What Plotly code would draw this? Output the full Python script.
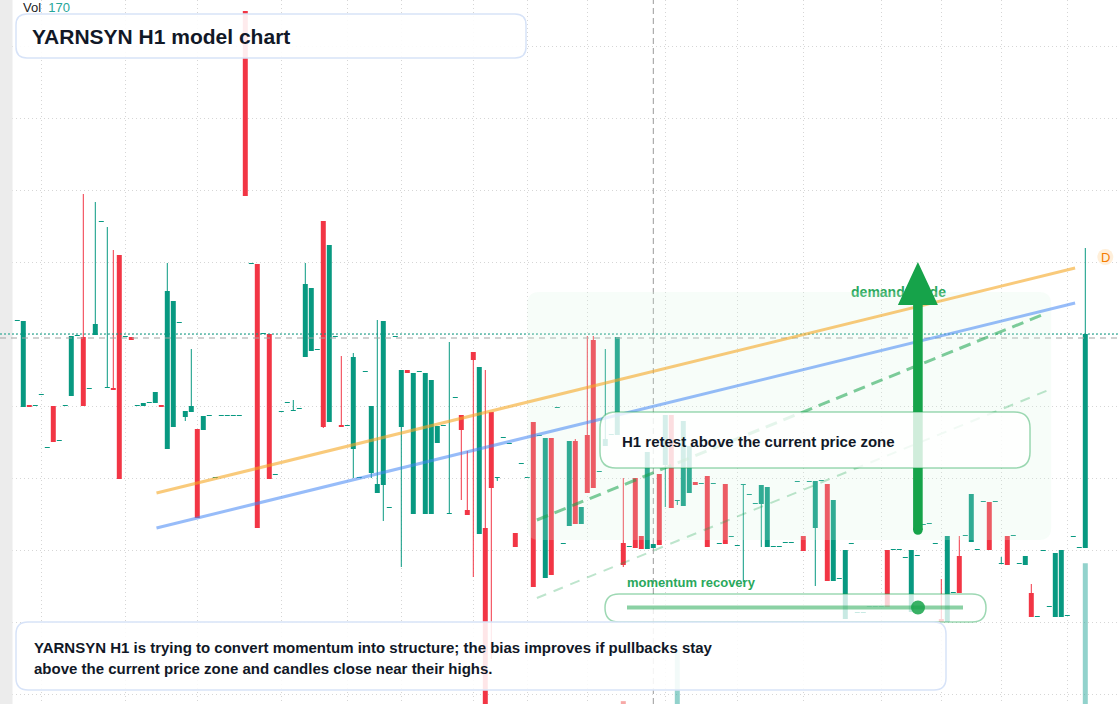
import plotly.graph_objects as go

W, H = 1120, 704

# hourly bars, oldest first
open_ = [
    24.25, 19.95, 20.05, 20.0, 20.55, 17.9, 20.0, 18.25, 20.0, 20.5,
    23.5, 23.45, 20.85, 23.55, 29.2, 20.9, 20.9, 27.55, 23.45, 23.45,
    20.0, 20.0, 20.15, 20.15, 20.05, 17.85, 18.95, 24.15, 19.45, 19.7,
    18.85, 18.8, 19.5, 16.4, 19.5, 19.5, 19.5, 19.5, 39.75, 27.1,
    27.1, 23.6, 23.6, 16.55, 19.7, 20.15, 19.75, 19.85, 22.45, 22.75,
    22.8, 29.25, 19.2, 23.45, 19.05, 19.0, 17.85, 16.4, 21.7, 16.65,
    15.65, 16.05, 14.9, 23.45, 18.95, 21.8, 14.6, 21.7, 14.6, 14.6,
    18.15, 19.0, 14.6, 20.4, 19.55, 14.8, 22.7, 13.6, 13.9, 19.7,
    16.4, 18.4, 18.1, 13.65, 17.1, 16.4, 19.2, 18.5, 11.4, 18.4,
    19.9, 13.1, 14.0, 18.25, 14.1, 18.55, 23.3, 16.7, 18.0, 18.55,
    18.55, 13.15, 12.95, 16.4, 13.5, 12.85, 12.9, 16.6, 17.05, 19.55,
    15.25, 15.0, 15.65, 16.2, 16.1, 16.5, 16.1, 13.1, 16.1, 13.45,
    13.0, 16.05, 15.55, 15.1, 15.1, 12.95, 12.95, 12.95, 13.15, 13.15,
    16.2, 13.5, 16.2, 13.9, 16.25, 16.1, 11.25, 11.35, 9.35, 13.1,
    9.65, 9.65, 9.95, 9.95, 9.95, 12.8, 12.8, 12.8, 12.4, 9.7,
    12.5, 14.05, 14.1, 13.1, 9.35, 9.2, 10.65, 12.5, 13.5, 13.2,
    12.8, 15.2, 15.2, 15.2, 12.1, 13.5, 13.5, 12.1, 12.05, 10.65,
    9.45, 12.75, 9.95, 9.45, 9.45, 9.5, 13.45, 12.9, 12.9,
]
high = [
    24.25, 24.25, 20.05, 20.0, 20.55, 17.9, 20.0, 18.25, 20.0, 23.5,
    23.5, 30.6, 20.85, 30.2, 29.2, 28.95, 27.8, 27.55, 23.45, 23.45,
    20.0, 20.15, 20.15, 20.7, 20.05, 27.15, 25.25, 24.15, 19.75, 22.85,
    18.85, 19.5, 19.5, 16.4, 19.5, 19.5, 19.5, 19.5, 39.75, 27.1,
    27.1, 23.6, 23.6, 16.55, 19.7, 20.15, 20.3, 19.85, 27.15, 25.9,
    22.8, 29.25, 28.05, 23.45, 22.5, 19.0, 22.65, 16.4, 21.7, 20.0,
    24.3, 24.25, 14.9, 23.45, 21.8, 21.8, 21.65, 21.7, 21.65, 21.3,
    19.0, 19.0, 23.2, 20.4, 19.55, 17.75, 22.7, 21.95, 21.8, 19.7,
    16.4, 18.4, 18.1, 13.65, 17.1, 16.4, 19.2, 18.5, 18.4, 18.4,
    19.9, 13.1, 18.25, 18.35, 14.95, 23.5, 23.5, 16.7, 22.85, 18.55,
    23.45, 16.4, 12.95, 16.4, 13.5, 17.7, 13.1, 16.6, 19.55, 19.55,
    15.25, 19.25, 18.0, 16.2, 16.1, 16.5, 16.1, 13.1, 16.1, 13.45,
    13.0, 16.05, 15.55, 15.1, 16.05, 15.95, 12.95, 12.95, 13.15, 13.15,
    16.2, 13.5, 16.2, 16.25, 16.25, 16.1, 15.3, 11.35, 12.8, 13.1,
    9.65, 9.65, 9.95, 9.95, 9.95, 12.8, 12.8, 12.8, 12.4, 12.8,
    12.5, 14.05, 14.1, 13.1, 11.35, 13.5, 10.65, 13.5, 13.5, 15.6,
    12.8, 15.2, 15.2, 15.2, 12.45, 13.5, 13.5, 12.1, 12.5, 11.1,
    9.45, 12.75, 9.95, 12.65, 12.8, 9.5, 13.45, 12.9, 27.9,
]
low = [
    24.25, 19.95, 19.95, 20.0, 20.55, 17.9, 18.2, 18.25, 20.0, 20.5,
    23.5, 20.0, 20.85, 23.55, 29.2, 20.9, 20.8, 16.35, 23.45, 23.3,
    20.0, 20.0, 20.15, 20.15, 19.95, 17.85, 18.95, 24.15, 19.25, 19.7,
    14.4, 18.8, 19.5, 16.4, 19.5, 19.5, 19.5, 19.5, 30.5, 27.1,
    13.9, 23.6, 16.35, 16.55, 19.7, 20.15, 19.75, 19.85, 22.45, 22.75,
    22.8, 18.9, 19.2, 23.45, 18.95, 19.0, 16.4, 16.4, 21.7, 16.4,
    15.65, 14.25, 14.9, 23.45, 11.95, 21.65, 14.6, 21.7, 14.6, 14.6,
    18.15, 19.0, 14.6, 20.4, 15.3, 14.55, 11.45, 13.6, 4.7, 7.35,
    16.25, 18.4, 18.1, 12.95, 17.1, 16.4, 10.95, 18.5, 11.4, 11.55,
    19.9, 13.1, 14.0, 14.1, 14.1, 15.65, 15.9, 16.7, 18.0, 18.55,
    18.55, 11.95, 12.95, 12.9, 12.85, 12.85, 12.9, 13.05, 14.95, 14.9,
    15.05, 15.0, 15.65, 16.05, 16.1, 12.95, 16.1, 13.1, 13.1, 13.45,
    13.0, 11.2, 15.55, 15.1, 12.95, 12.95, 12.95, 12.95, 13.15, 13.15,
    16.2, 12.75, 16.2, 11.0, 16.25, 11.25, 11.25, 11.35, 9.35, 13.1,
    9.65, 9.65, 9.95, 9.95, 9.95, 9.95, 12.8, 12.8, 12.4, 9.7,
    12.5, 14.05, 14.1, 13.1, 9.2, 9.2, 10.65, 10.65, 13.5, 13.2,
    12.8, 15.2, 12.8, 15.2, 12.1, 12.05, 13.5, 12.1, 12.05, 9.45,
    9.45, 12.75, 9.95, 9.45, 9.45, 9.5, 13.45, 12.9, 12.9,
]
close = [
    24.25, 24.25, 19.95, 20.0, 20.55, 17.9, 18.2, 18.25, 20.0, 23.5,
    23.5, 20.0, 20.85, 24.1, 29.2, 20.9, 20.8, 16.35, 23.45, 23.3,
    20.0, 20.15, 20.15, 20.7, 19.95, 25.75, 25.25, 24.15, 19.75, 20.0,
    14.4, 19.5, 19.5, 16.4, 19.5, 19.5, 19.5, 19.5, 30.5, 27.1,
    13.9, 23.6, 16.35, 16.55, 19.7, 20.15, 19.75, 19.85, 26.1, 25.9,
    22.8, 18.95, 28.05, 23.45, 18.95, 19.0, 22.45, 16.4, 21.7, 20.0,
    16.1, 24.25, 14.9, 23.45, 21.8, 21.65, 21.65, 21.7, 21.65, 21.3,
    19.0, 19.0, 14.6, 20.4, 18.8, 14.55, 22.3, 21.95, 4.7, 15.9,
    16.4, 18.4, 18.1, 12.95, 17.1, 16.4, 10.95, 18.5, 18.4, 11.55,
    19.9, 13.1, 18.25, 14.1, 14.95, 15.65, 15.9, 16.7, 18.35, 18.55,
    23.45, 12.05, 12.95, 12.9, 12.85, 17.7, 13.1, 13.05, 19.55, 14.9,
    15.25, 19.25, 18.0, 16.05, 16.1, 12.95, 16.1, 13.1, 13.1, 13.45,
    13.0, 16.05, 15.55, 15.1, 16.05, 15.95, 12.95, 12.95, 13.15, 13.15,
    16.2, 12.75, 16.2, 16.25, 16.25, 11.25, 15.3, 11.35, 12.8, 13.1,
    9.65, 9.65, 9.95, 9.95, 9.95, 9.95, 12.8, 12.8, 12.4, 12.8,
    12.5, 14.05, 14.1, 13.1, 9.2, 13.5, 10.65, 10.65, 13.5, 15.6,
    12.8, 15.2, 12.8, 15.2, 12.1, 12.05, 13.5, 12.1, 12.5, 9.45,
    9.45, 12.75, 9.95, 12.65, 12.8, 9.5, 13.45, 12.9, 23.6,
]
volume = [
    18, 52, 14, 12, 16, 15, 38, 14, 13, 45,
    17, 60, 15, 44, 19, 40, 42, 63, 16, 20,
    13, 22, 15, 28, 17, 64, 58, 18, 30, 33,
    55, 31, 12, 14, 11, 10, 12, 11, 66, 21,
    65, 19, 57, 16, 15, 14, 24, 13, 50, 47,
    15, 62, 61, 18, 35, 14, 49, 16, 17, 44,
    46, 63, 15, 18, 52, 20, 59, 14, 60, 57,
    30, 13, 41, 16, 39, 27, 54, 61, 66, 58,
    19, 15, 14, 29, 13, 16, 62, 15, 60, 59,
    14, 17, 52, 50, 26, 48, 55, 15, 36, 14,
    49, 71, 16, 51, 27, 53, 18, 49, 41, 47,
    108, 50, 38, 20, 14, 52, 15, 16, 47, 13,
    15, 42, 14, 16, 37, 46, 12, 11, 13, 12,
    15, 24, 14, 43, 13, 56, 53, 15, 40, 16,
    13, 12, 11, 12, 13, 45, 14, 13, 15, 44,
    16, 14, 13, 15, 28, 58, 17, 36, 15, 39,
    14, 16, 41, 15, 19, 33, 13, 14, 22, 30,
    15, 16, 14, 48, 50, 15, 17, 16, 170,
]

# time grid (bar index of each session tick) and price grid
grid_idx = [4, 18, 30, 44, 55, 64, 76, 85, 95, 108, 120, 131, 144, 154, 164, 175]
grid_price = [5.6, 9.2, 12.8, 16.4, 20.0, 23.6, 27.2, 30.8, 34.4, 38.0]

# drawings on the chart (bar index, price)
upper_channel = ([23.2, 176.3], [15.65, 26.9])
lower_channel = ([23.2, 176.3], [13.9, 25.15])
guide_fast = ([86.6, 171.6], [14.3, 24.65])
guide_slow = ([86.6, 171.9], [10.4, 20.8])
zone_idx = [85.0, 172.3]
zone_price = [13.3, 25.7]
arrow_idx = 150.1
arrow_price = [13.8, 27.2]
cross_idx = 106
cross_price = 23.4

X_RANGE = [-2.883, 183.783]
Y_RANGE = [5.1, 40.3]
VOL_RANGE = [68.95, 574.6]
XU = (X_RANGE[1] - X_RANGE[0]) / W   # index units per pixel
YU = (Y_RANGE[1] - Y_RANGE[0]) / H   # price units per pixel

UP, DOWN = "#089981", "#f23645"
UP_VOL, DOWN_VOL = "rgba(38,166,154,0.5)", "rgba(239,83,80,0.5)"
FONT = "Liberation Sans, Arial, sans-serif"
GREEN = "#16a34a"

idx = list(range(len(close)))
is_up = [c >= o for o, c in zip(open_, close)]


def rpath(x0, y0, x1, y1, rx, ry):
    return (f"M{x0+rx},{y0} L{x1-rx},{y0} Q{x1},{y0} {x1},{y0+ry} "
            f"L{x1},{y1-ry} Q{x1},{y1} {x1-rx},{y1} "
            f"L{x0+rx},{y1} Q{x0},{y1} {x0},{y1-ry} "
            f"L{x0},{y0+ry} Q{x0},{y0} {x0+rx},{y0} Z")


def paper_box(x0, y0, x1, y1, r, line, fill, width=1.5):
    # pixel box -> paper path
    return dict(type="path", xref="paper", yref="paper",
                path=rpath(x0 / W, 1 - y1 / H, x1 / W, 1 - y0 / H, r / W, r / H),
                line=dict(color=line, width=width), fillcolor=fill, layer="above")


def px_x(px):
    return X_RANGE[0] + px * XU


def px_y(py):
    return Y_RANGE[1] - py * YU


fig = go.Figure()

fig.add_trace(go.Bar(
    x=idx, y=volume, width=0.83, yaxis="y2",
    marker=dict(color=[UP_VOL if u else DOWN_VOL for u in is_up], line=dict(width=0)),
    hoverinfo="skip",
))

for up, col in [(True, UP), (False, DOWN)]:
    wx, wy = [], []
    for i in idx:
        if is_up[i] == up:
            wx += [i, i, None]
            wy += [low[i], high[i], None]
    fig.add_trace(go.Scatter(x=wx, y=wy, mode="lines", line=dict(color=col, width=1),
                             hoverinfo="skip"))

fig.add_trace(go.Bar(
    x=idx,
    y=[max(abs(c - o), YU) for o, c in zip(open_, close)],
    base=[min(o, c) for o, c in zip(open_, close)],
    width=0.83,
    marker=dict(color=[UP if u else DOWN for u in is_up], line=dict(width=0)),
    hoverinfo="skip",
))

# label sitting under the guide arrow
fig.add_trace(go.Scatter(
    x=[px_x(898.5)], y=[px_y(293)], mode="text", text=["<b>demand guide</b>"],
    textfont=dict(family=FONT, size=14, color="#2aa85c"), hoverinfo="skip",
))

shapes = [
    dict(type="rect", xref="paper", yref="paper", x0=0, x1=12.5 / W, y0=0, y1=1,
         fillcolor="#ececec", line=dict(width=0), layer="above"),
    dict(type="line", xref="x", yref="paper", x0=cross_idx, x1=cross_idx, y0=0, y1=1,
         line=dict(color="#9a9a9a", width=1, dash="6px,4px"), layer="above"),
    dict(type="line", xref="paper", yref="y", x0=0, x1=1, y0=cross_price, y1=cross_price,
         line=dict(color="#a3a3a3", width=1, dash="6px,5px"), layer="above"),
    dict(type="line", xref="paper", yref="y", x0=0, x1=1, y0=close[-1], y1=close[-1],
         line=dict(color=UP, width=1, dash="2px,2px"), layer="above"),
    dict(type="path", xref="x", yref="y",
         path=rpath(zone_idx[0], zone_price[0], zone_idx[1], zone_price[1], 12 * XU, 12 * YU),
         fillcolor="rgba(214,245,225,0.2)", line=dict(width=0), layer="above"),
]

for (xs, ys), col, w, dash in [
    (upper_channel, "rgba(245,166,35,0.6)", 3, "solid"),
    (lower_channel, "rgba(66,133,244,0.55)", 3, "solid"),
    (guide_fast, "rgba(22,163,74,0.55)", 3, "12px,7px"),
    (guide_slow, "rgba(22,163,74,0.28)", 2, "10px,8px"),
]:
    shapes.append(dict(type="line", xref="x", yref="y", x0=xs[0], x1=xs[1], y0=ys[0], y1=ys[1],
                       line=dict(color=col, width=w, dash=dash), layer="above"))

# guide arrow: shaft, head, rounded foot
hw, sw = 20 * XU, 4.8 * XU
head_base = arrow_price[1] - 43 * YU
shapes.append(dict(
    type="path", xref="x", yref="y", fillcolor=GREEN, line=dict(width=0), layer="above",
    path=(f"M{arrow_idx-sw},{arrow_price[0]} L{arrow_idx-sw},{head_base} "
          f"L{arrow_idx-hw},{head_base} L{arrow_idx},{arrow_price[1]} "
          f"L{arrow_idx+hw},{head_base} L{arrow_idx+sw},{head_base} "
          f"L{arrow_idx+sw},{arrow_price[0]} Z")))
shapes.append(dict(type="circle", xref="x", yref="y", fillcolor=GREEN, line=dict(width=0),
                   x0=arrow_idx - sw, x1=arrow_idx + sw,
                   y0=arrow_price[0] - 4.8 * YU, y1=arrow_price[0] + 4.8 * YU, layer="above"))

shapes += [
    paper_box(16, 14, 526, 58, 11, "#d7e3f8", "rgba(255,255,255,0.9)"),
    paper_box(600, 412, 1030, 468, 16, "rgba(22,163,74,0.42)", "rgba(255,255,255,0.8)"),
    paper_box(605, 594, 986, 622, 14, "rgba(22,163,74,0.42)", "rgba(255,255,255,0.78)"),
    paper_box(16, 622, 946, 690, 12, "#d7e3f8", "rgba(255,255,255,0.88)"),
    dict(type="line", xref="paper", yref="paper", x0=627 / W, x1=963 / W,
         y0=1 - 607.5 / H, y1=1 - 607.5 / H,
         line=dict(color="rgba(22,163,74,0.5)", width=4), layer="above"),
    dict(type="circle", xref="paper", yref="paper", x0=911 / W, x1=925 / W,
         y0=1 - 614.5 / H, y1=1 - 600.5 / H,
         fillcolor="rgba(22,163,74,0.85)", line=dict(width=0), layer="above"),
    dict(type="circle", xref="x", yref="y", xsizemode="pixel", ysizemode="pixel",
         xanchor=idx[-1], yanchor=high[-1], x0=12, x1=28, y0=-17, y1=-1,
         fillcolor="#ffefd9", line=dict(width=0), layer="above"),
]


def note(px, py, text, size, color="#111827"):
    return dict(xref="paper", yref="paper", x=px / W, y=1 - py / H, text=text,
                showarrow=False, xanchor="left", yanchor="middle", borderpad=0,
                font=dict(family=FONT, size=size, color=color))


annotations = [
    note(22, 8, f"Vol  <span style='color:#26a69a'>{volume[-1]}</span>", 13, "#222222"),
    note(31, 36, "<b>YARNSYN H1 model chart</b>", 21),
    note(621, 441, "<b>H1 retest above the current price zone</b>", 15),
    note(626, 582, "<b>momentum recovery</b>", 13, "#2aa85c"),
    note(33, 647, "<b>YARNSYN H1 is trying to convert momentum into structure; the bias improves if pullbacks stay</b>", 15),
    note(33, 668, "<b>above the current price zone and candles close near their highs.</b>", 15),
    dict(xref="x", yref="y", x=idx[-1], y=high[-1], xshift=20, yshift=-9, text="D",
         showarrow=False, font=dict(family=FONT, size=13, color="#f57c00")),
]

fig.update_layout(
    width=W, height=H, margin=dict(l=0, r=0, t=0, b=0),
    paper_bgcolor="white", plot_bgcolor="white",
    showlegend=False, barmode="overlay",
    xaxis=dict(range=X_RANGE, tickvals=grid_idx, showticklabels=False, ticks="",
               showgrid=True, gridcolor="#d6d6d6", griddash="1px,3px", gridwidth=1,
               zeroline=False, showline=False, fixedrange=True),
    yaxis=dict(range=Y_RANGE, tickvals=grid_price, showticklabels=False, ticks="",
               showgrid=True, gridcolor="#d6d6d6", griddash="1px,3px", gridwidth=1,
               zeroline=False, showline=False, fixedrange=True),
    yaxis2=dict(range=VOL_RANGE, overlaying="y", visible=False, fixedrange=True),
    shapes=shapes, annotations=annotations,
)

# page body margin would push the 1120x704 figure off the window edge
fig.write_html("out.html", config={"displayModeBar": False},
               post_script="document.body.style.margin='0';")
